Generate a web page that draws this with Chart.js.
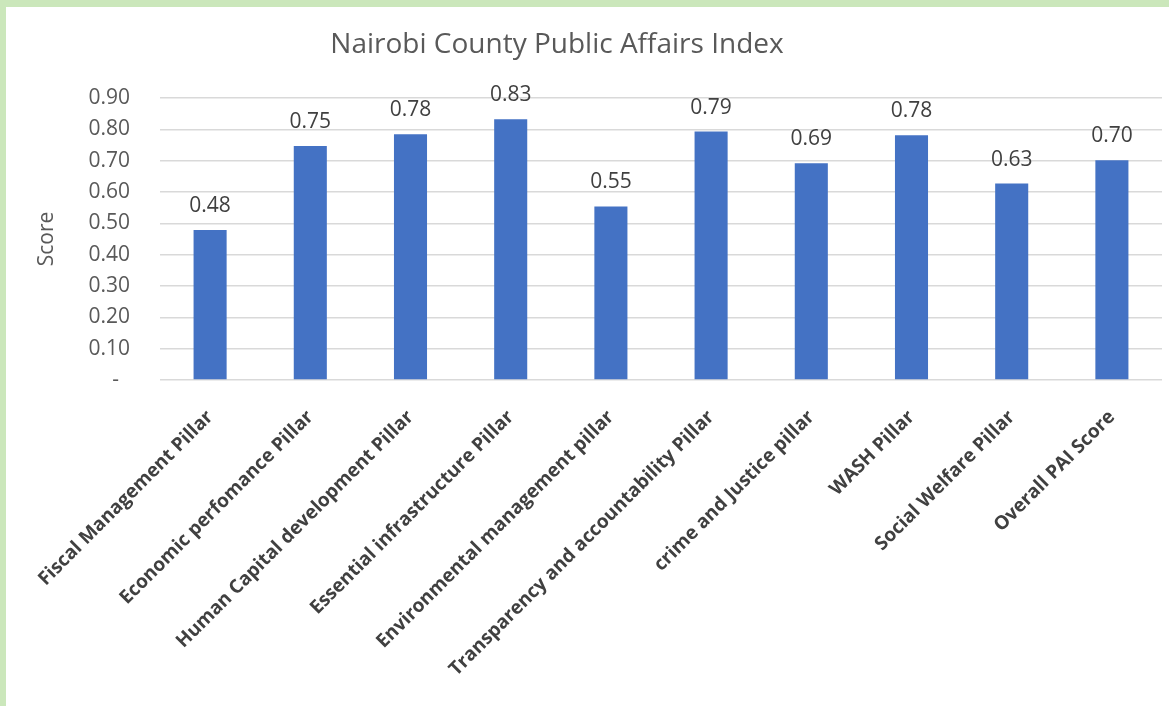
<!DOCTYPE html>
<html>
<head>
<meta charset="utf-8">
<script src="https://cdn.jsdelivr.net/npm/chart.js@4.4.0/dist/chart.umd.min.js"></script>
<style>
    html, body {
        margin: 0;
        padding: 0;
        width: 1169px;
        height: 706px;
        overflow: hidden;
        background: #cbe7bb;
    }
    .card {
        position: absolute;
        left: 6px;
        top: 7px;
        width: 1163px;
        height: 699px;
        background: #ffffff;
    }
</style>
</head>
<body>
<div class="card">
    <canvas id="paiChart" width="1163" height="699"></canvas>
</div>
<script>
// Chart data
const chartTitle = 'Nairobi County Public Affairs Index';
const pillars = [
    'Fiscal Management Pillar',
    'Economic perfomance Pillar',
    'Human Capital development Pillar',
    'Essential infrastructure Pillar',
    'Environmental management pillar',
    'Transparency and accountability Pillar',
    'crime and Justice pillar',
    'WASH Pillar',
    'Social Welfare Pillar',
    'Overall PAI Score'
];
const scores = [0.479, 0.747, 0.784, 0.832, 0.554, 0.793, 0.692, 0.781, 0.627, 0.701];
const yTicks = [0, 0.1, 0.2, 0.3, 0.4, 0.5, 0.6, 0.7, 0.8, 0.9];

const fontFamily = '"Open Sans", "DejaVu Sans", sans-serif';

// Draws the title and the value above each bar
const labelPlugin = {
    id: 'valueLabels',
    afterDatasetsDraw(chart) {
        const ctx = chart.ctx;
        ctx.save();
        ctx.fillStyle = '#404040';
        ctx.font = '21px ' + fontFamily;
        ctx.textAlign = 'center';
        ctx.textBaseline = 'alphabetic';
        const meta = chart.getDatasetMeta(0);
        meta.data.forEach((bar, i) => {
            ctx.fillText(scores[i].toFixed(2), bar.x, bar.y - 18);
        });

        ctx.fillStyle = '#595959';
        ctx.font = '28px ' + fontFamily;
        ctx.fillText(chartTitle, 551, 46);
        ctx.restore();
    }
};

const initializeChart = () => {
    const ctx = document.getElementById('paiChart');
    if (!ctx) return;

    return new Chart(ctx.getContext('2d'), {
        type: 'bar',
        data: {
            labels: pillars,
            datasets: [{
                label: 'Score',
                data: scores,
                backgroundColor: '#4472c4',
                borderWidth: 0,
                barPercentage: 0.33,
                categoryPercentage: 1
            }]
        },
        options: {
            responsive: false,
            animation: false,
            layout: {
                padding: { top: 91, right: 7, left: 0, bottom: 0 }
            },
            scales: {
                y: {
                    min: 0,
                    max: 0.9,
                    afterBuildTicks: (scale) => {
                        scale.ticks = yTicks.map(v => ({ value: v }));
                    },
                    afterFit: (scale) => { scale.width = 154; },
                    ticks: {
                        color: '#595959',
                        padding: 30,
                        font: { size: 21, family: fontFamily },
                        callback: (value) => value === 0 ? '-  ' : Number(value).toFixed(2)
                    },
                    grid: {
                        color: '#d9d9d9',
                        lineWidth: 1.5,
                        drawTicks: false
                    },
                    border: { display: false },
                    title: {
                        display: true,
                        text: 'Score',
                        color: '#595959',
                        font: { size: 21, family: fontFamily },
                        padding: { top: 28, bottom: 0 }
                    }
                },
                x: {
                    afterFit: (scale) => { scale.height = 326; },
                    ticks: {
                        color: '#404040',
                        autoSkip: false,
                        minRotation: 45,
                        maxRotation: 45,
                        padding: 18,
                        font: { size: 19, weight: 'bold', family: fontFamily }
                    },
                    grid: { display: false },
                    border: { display: false }
                }
            },
            plugins: {
                legend: { display: false },
                title: { display: false },
                tooltip: { enabled: false }
            }
        },
        plugins: [labelPlugin]
    });
};

let paiChart;

document.addEventListener('DOMContentLoaded', () => {
    paiChart = initializeChart();
});
</script>
</body>
</html>
